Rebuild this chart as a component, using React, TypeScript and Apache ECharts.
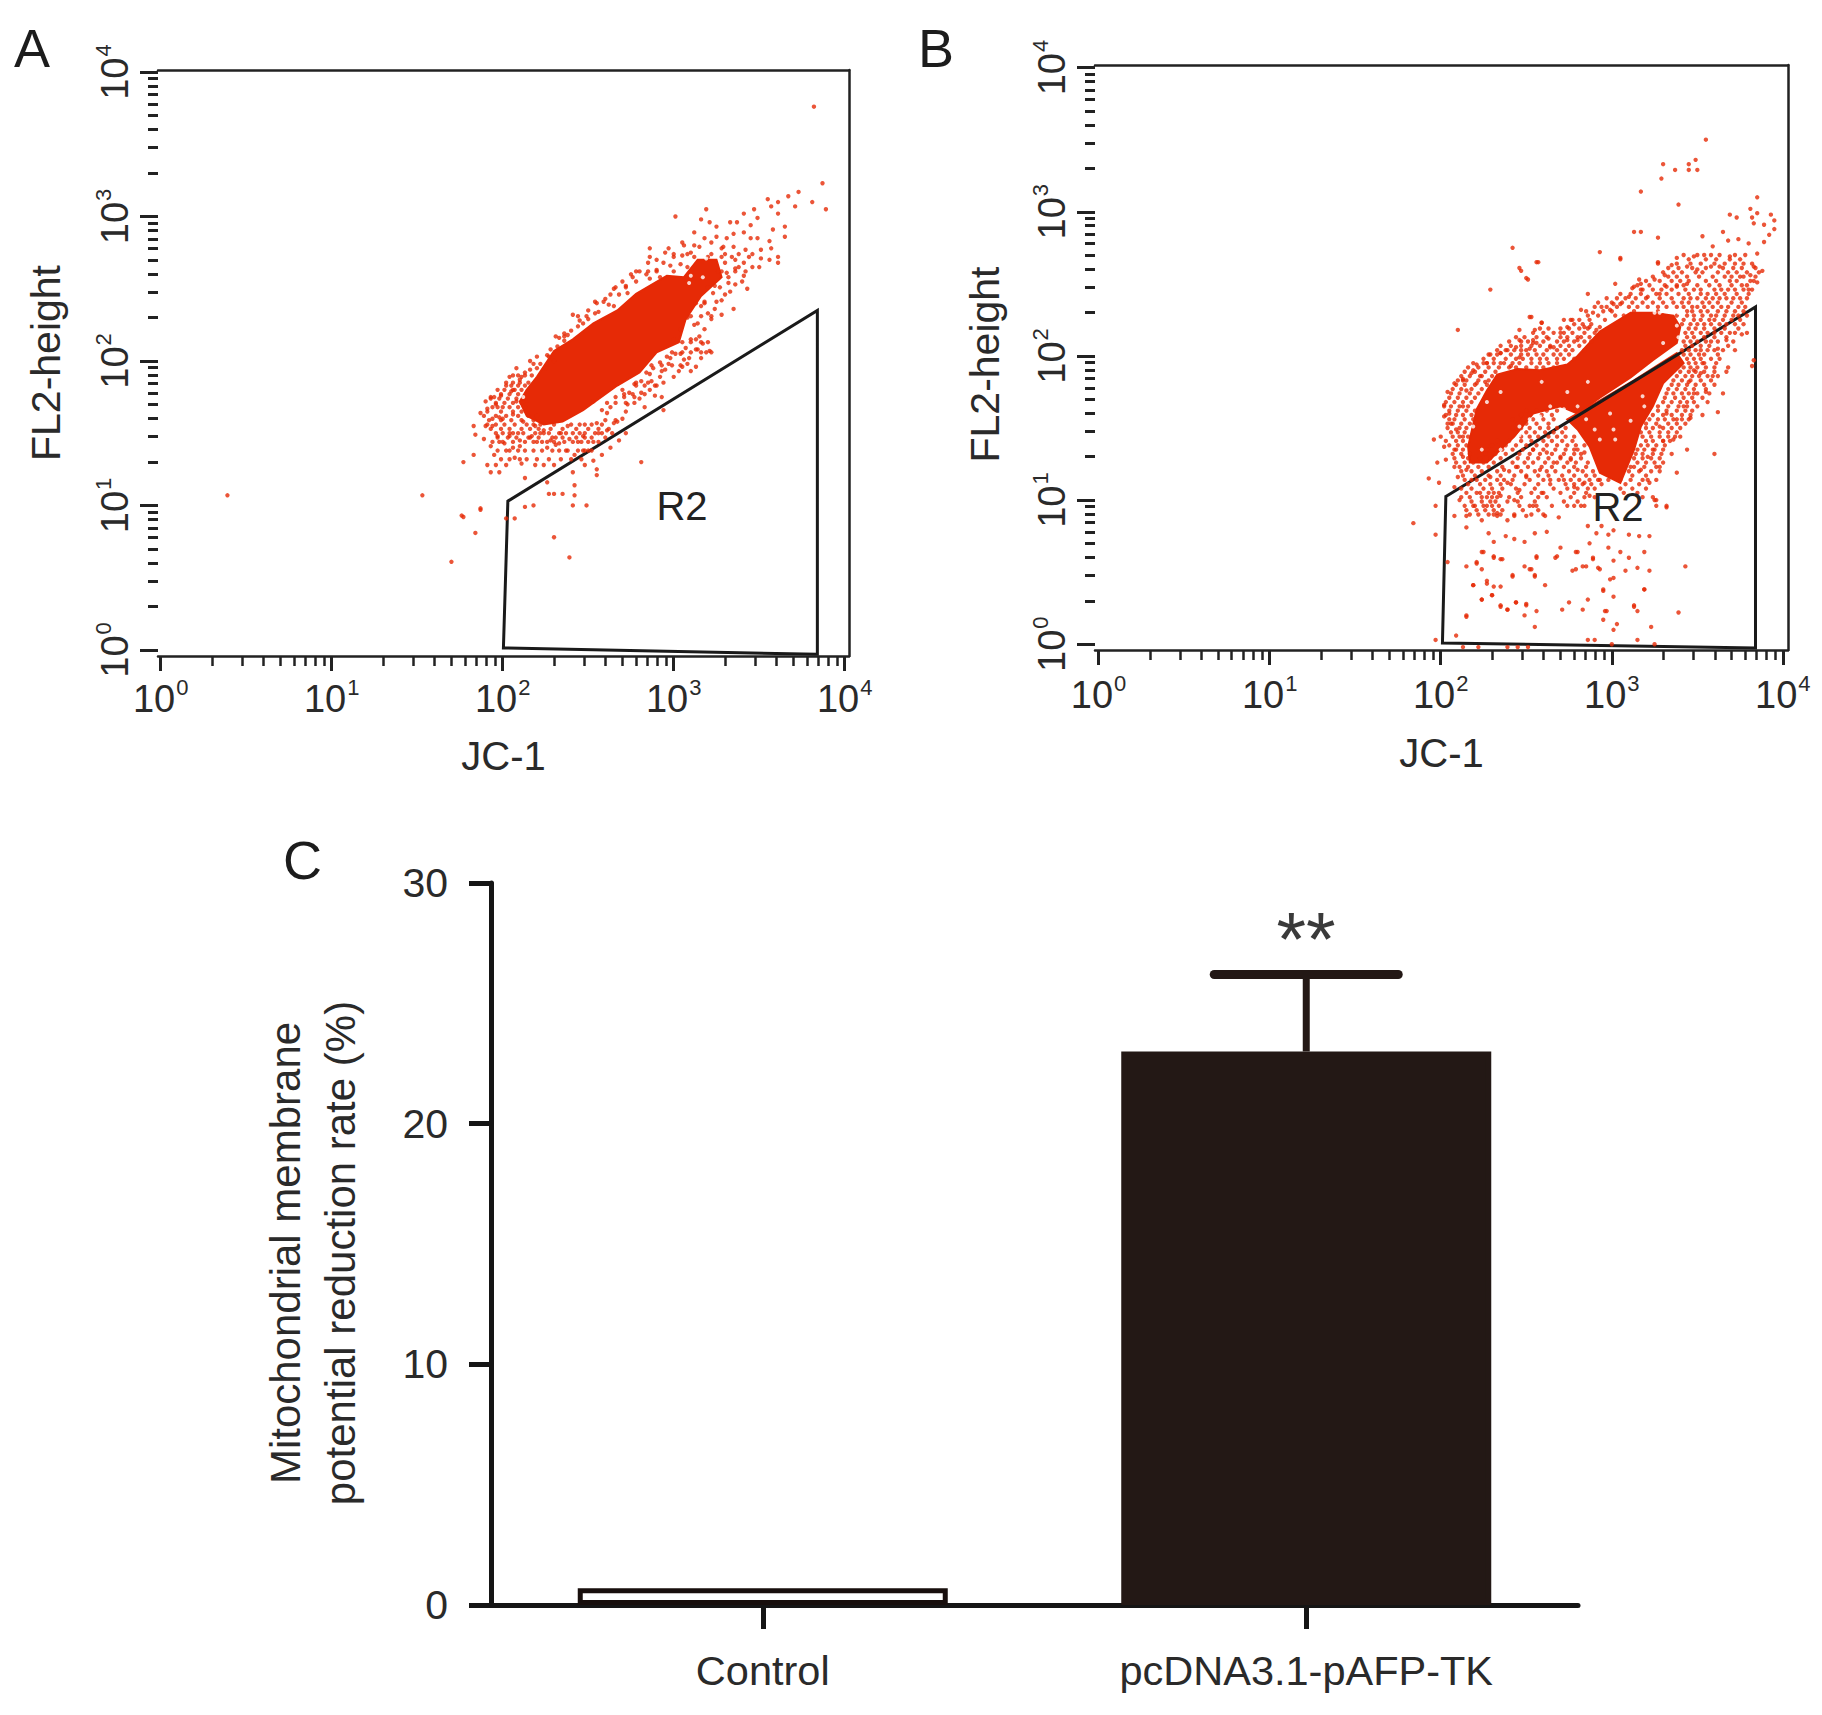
import React, { useEffect, useRef } from "react";
import * as echarts from "echarts";

// All scatter values are log10 decades, flat x,y,x,y...
const decades = [0, 1, 2, 3, 4];
const minorMultipliers = [2, 3, 4, 5, 6, 7, 8, 9];

const coreA = [2.10,1.72,2.14,1.80,2.20,1.89,2.30,2.07,2.41,2.15,2.53,2.26,2.67,2.35,2.78,2.465,2.96,2.59,3.06,2.58,3.14,2.70,3.25,2.70,3.28,2.58,3.16,2.45,3.07,2.29,3.03,2.13,2.90,2.06,2.80,1.92,2.67,1.83,2.47,1.66,2.35,1.58,2.24,1.56,2.14,1.62];
const gateA = [2.03,1.03,3.84,2.35,3.84,-0.03,2.004,0.014];
const gapsA = [2.12,1.75,3.09,2.54,3.17,2.58,3.19,2.71,3.10,2.59];
const fringeA = [
0.39,1.07,1.53,1.07,1.76,0.93,1.87,0.98,1.84,0.81,1.70,0.61,3.82,3.76,
1.87,1.64,1.83,1.55,1.84,1.49,1.89,1.46,1.93,1.41,1.95,1.35,1.83,1.35,1.77,1.30,1.91,1.28,1.93,1.23,1.98,1.23,1.96,1.28,2.02,1.28,2.13,1.19,2.19,1.28,2.24,1.28,2.30,1.28,2.26,1.16,2.41,1.23,2.48,1.28,2.55,1.25,2.55,1.21,2.42,1.14,2.27,1.08,2.30,1.08,2.35,1.08,2.42,1.07,2.41,1.00,2.49,1.00,2.13,0.99,2.18,1.00,1.87,0.97,1.77,0.92,2.02,0.91,2.07,0.91,2.30,0.78,2.39,0.64,2.81,1.30,2.94,1.66,
3.87,3.23,3.89,3.05,3.73,3.17,3.81,3.10,3.71,3.07,3.67,3.14,3.61,3.10,3.55,3.12,3.57,3.07,3.61,3.02,3.65,2.93,3.58,2.91,3.65,2.86,3.56,2.83,3.57,2.78,3.56,2.70,3.61,2.72,3.61,2.68,3.47,3.05,3.41,3.02,3.37,2.96,3.49,2.99,3.45,2.94,3.41,2.89,3.33,2.96,3.25,2.93,3.21,2.96,3.16,2.98,3.19,3.05,3.12,2.89,3.01,3.00,3.25,2.86,3.31,2.85,3.35,2.88,3.29,2.79,3.35,2.79,3.45,2.85,3.49,2.85,3.42,2.77,3.46,2.74,3.51,2.77,3.51,2.71,3.41,2.68,3.36,2.64,3.31,2.61,3.41,2.59,3.36,2.53,3.43,2.50,3.30,2.46,3.33,2.48,3.35,2.36,3.23,2.47,3.20,2.33,3.16,2.38,3.14,2.26,3.15,2.17,3.13,2.15,3.19,2.06,3.14,2.08,3.13,1.96,3.06,2.01,3.08,1.98,3.00,1.89,2.96,2.03,2.92,1.89,2.93,1.75,2.86,1.91,2.83,1.68,2.67,1.58,2.72,1.65,2.77,1.71,2.86,1.80,2.78,1.85,2.71,1.75,2.61,1.71,2.53,1.72,2.61,1.64,2.55,1.57,2.53,1.44,2.50,1.38,2.47,1.48,2.38,1.55,2.33,1.43,2.28,1.45,2.22,1.50,2.17,1.48,2.12,1.50,2.10,1.41,2.04,1.38,2.07,1.33,2.11,1.29,1.98,1.44,2.04,1.48,1.94,1.55,1.98,1.61,1.91,1.67,1.95,1.75,2.00,1.68,2.05,1.79,2.11,1.89,2.16,1.94,2.04,1.89,2.22,1.98,2.28,2.08,2.33,2.16,2.41,2.32,2.36,2.19,2.47,2.26,2.54,2.33,2.63,2.46,2.65,2.38,2.76,2.58,2.73,2.47,2.86,2.78,2.86,2.72,2.97,2.78,3.06,2.80,3.15,2.79,2.86,2.57,2.92,2.58,2.98,2.66,3.05,2.73,3.10,2.75,
2.14,1.70,2.08,1.72,2.06,1.63,2.12,1.58,2.19,1.55,2.24,1.52,2.29,1.47,2.34,1.50,2.39,1.46,2.44,1.44,2.48,1.50,2.52,1.56,2.56,1.50,2.61,1.52,2.65,1.57,2.70,1.60,2.73,1.70,2.77,1.75,2.81,1.78,2.85,1.85,2.89,1.83,2.93,1.93,2.97,1.98,3.01,2.05,3.05,1.96,3.09,2.02,3.13,2.08,3.17,2.12,3.21,2.07,3.00,2.15,3.04,2.22,3.08,2.30,3.12,2.25,
2.25,1.95,2.30,2.00,2.36,2.14,2.40,2.21,2.45,2.28,2.50,2.35,2.55,2.40,2.60,2.43,2.65,2.50,2.70,2.55,2.75,2.60,2.80,2.62,2.85,2.68,2.90,2.70,2.95,2.75,3.00,2.72,3.05,2.82,3.12,2.80,3.18,2.85,3.22,2.82,3.28,2.78,3.34,2.72,3.38,2.65,3.32,2.58,3.26,2.62,3.40,2.55,
2.00,1.60,2.04,1.50,1.94,1.60,1.90,1.55,1.97,1.48,2.01,1.43,2.06,1.40,2.10,1.45,2.15,1.47,2.20,1.44,2.26,1.40,2.31,1.42,2.37,1.38,2.42,1.35,2.48,1.38,2.53,1.31,2.58,1.35,2.63,1.40,2.68,1.45,2.72,1.50,
1.96,1.70,1.93,1.75,1.90,1.72,1.99,1.76,2.02,1.83,2.06,1.80,2.10,1.87,2.13,1.92,2.18,1.98,2.08,1.95,
2.58,1.66,2.63,1.68,2.66,1.75,2.70,1.80,2.74,1.78,2.77,1.84,2.81,1.86,2.84,1.92,2.88,1.95,2.92,1.99,2.95,1.94,2.98,2.02,2.80,1.74,2.89,1.76,2.87,1.86,2.94,1.85,3.04,2.05,3.07,2.09,3.10,2.15,3.03,1.93,3.10,1.93,3.16,2.02,3.18,2.22,3.22,2.29,3.18,2.40,3.13,2.40,3.24,2.36,3.28,2.32,3.28,2.42,3.24,2.52,3.32,2.54,
2.16,2.00,2.20,1.95,2.26,2.04,2.32,2.10,2.38,2.18,2.44,2.24,2.50,2.29,2.56,2.34,2.62,2.39,2.68,2.46,2.72,2.52,2.78,2.55,2.84,2.60,2.90,2.63,2.94,2.68,3.00,2.62,3.04,2.67,3.08,2.65,3.12,2.72,3.20,2.72,3.28,2.72,3.30,2.68,3.36,2.70,3.44,2.72,3.46,2.65,3.50,2.65,
];
const rowsA: [number, number[]][] = [
[1.90,[2.06,2.09,2.13,2.17]],[1.85,[2.02,2.06,2.10,2.15]],[1.80,[1.97,2.01,2.07,2.11]],[1.74,[1.93,1.98,2.03,2.08,2.12]],[1.68,[1.94,1.97,2.04,2.09,2.13]],
[1.62,[1.89,1.96,2.02,2.09,2.15,2.20]],[1.56,[1.91,1.96,2.01,2.07,2.14,2.18,2.22,2.30,2.40,2.45,2.48,2.58]],[1.50,[1.96,2.00,2.06,2.09,2.19,2.24,2.27,2.33,2.37,2.41,2.45,2.54,2.58,2.64]],
[1.44,[1.94,2.00,2.06,2.13,2.18,2.23,2.26,2.30,2.36,2.41,2.46,2.50,2.56]],[1.38,[1.97,2.02,2.09,2.13,2.18,2.23,2.29,2.33,2.38,2.44,2.47,2.52]],[1.32,[1.99,2.04,2.10,2.14,2.20,2.27,2.34,2.40,2.46]],
[1.47,[1.97,2.03,2.08,2.16,2.21,2.31,2.35,2.43,2.48,2.52,2.60]],[1.53,[1.93,1.99,2.04,2.11,2.16,2.21,2.28,2.35,2.43,2.50,2.56,2.62]],[1.59,[1.92,1.99,2.05,2.11,2.18,2.60,2.66]],[1.65,[1.91,1.99,2.06,2.11]],
[1.71,[1.96,2.01,2.06,2.11,2.66,2.72]],[1.77,[1.99,2.04,2.09,2.71,2.76,2.83]],[1.83,[2.05,2.09,2.13,2.78,2.83,2.90]],[1.97,[2.87,2.93,2.99,3.04]],[2.06,[2.99,3.05,3.10,3.16,3.22]],[2.13,[3.05,3.10,3.16,3.20]],
[2.03,[2.20,2.27]],[2.17,[2.31,2.36]],[2.31,[2.44,2.49,3.10,3.16,3.22]],[2.41,[2.54,2.59,3.18,3.25]],[2.51,[2.66,2.72,3.20,3.27]],[2.62,[2.78,2.85,2.90,3.28,3.36,3.42]],[2.74,[3.00,3.08,3.22,3.30,3.38]],
];

const coreB1 = [2.16,1.37,2.21,1.63,2.27,1.76,2.33,1.87,2.45,1.91,2.58,1.90,2.74,1.94,2.80,2.00,2.93,2.17,3.11,2.30,3.24,2.30,3.36,2.28,3.40,2.20,3.38,2.09,3.24,1.97,3.11,1.85,2.93,1.71,2.80,1.60,2.70,1.65,2.54,1.60,2.43,1.44,2.27,1.26,2.17,1.26];
const coreB2 = [2.74,1.56,2.93,1.69,3.13,1.83,3.38,2.02,3.42,1.95,3.30,1.81,3.24,1.65,3.17,1.51,3.13,1.35,3.05,1.12,2.93,1.19,2.87,1.37,2.80,1.49];
const gateB = [2.03,1.025,3.84,2.34,3.84,-0.026,2.01,0.009];
const gapsB = [2.74,1.75,2.59,1.82,2.86,1.82,2.27,1.68,2.35,1.75,2.46,1.51,2.19,1.51,3.25,2.30,3.28,2.30,3.39,2.30,3.42,2.30,3.38,2.21,3.39,2.13,3.30,2.09,2.99,1.60,2.85,1.56,3.18,1.72,3.19,1.65,3.11,1.55,3.01,1.49,2.46,1.45,2.35,1.35,2.24,1.35,2.52,1.56,2.58,1.58,2.64,1.65,2.72,1.63,2.80,1.65,2.90,1.49,2.93,1.42,3.02,1.42];
const fringeB = [
3.55,3.50,3.30,3.33,3.45,3.33,3.49,3.36,3.37,3.29,3.45,3.29,3.50,3.29,3.29,3.23,3.17,3.14,3.39,3.05,3.85,3.10,3.81,3.02,3.82,2.96,3.83,2.92,3.85,2.99,3.93,2.98,3.95,2.94,3.95,2.88,3.92,2.84,3.89,2.79,3.89,2.91,3.69,2.98,3.73,2.96,3.65,2.86,3.53,2.83,3.13,2.86,3.17,2.86,3.27,2.82,2.93,2.72,3.05,2.67,2.42,2.75,2.57,2.65,2.47,2.59,2.51,2.53,2.29,2.46,2.86,2.43,3.27,2.65,3.35,2.63,2.10,2.18,2.53,2.27,2.59,2.23,2.46,2.18,2.55,2.18,2.46,2.11,2.82,2.32,3.02,2.50,2.89,2.30,2.72,2.25,2.77,2.25,2.70,2.16,2.63,2.12,2.54,2.11,2.44,2.06,2.39,2.04,2.35,2.02,2.29,2.01,2.27,1.95,2.21,1.94,2.13,1.83,2.18,1.88,2.24,1.86,2.26,1.82,2.35,1.95,2.41,1.93,2.46,1.99,2.52,2.05,2.56,2.09,2.66,2.06,2.74,2.11,2.80,2.13,2.87,2.20,2.93,2.20,2.94,2.34,2.99,2.32,3.05,2.36,3.10,2.41,3.16,2.53,3.17,2.46,3.12,2.47,3.21,2.41,3.25,2.53,3.31,2.56,3.38,2.68,3.44,2.62,3.48,2.69,3.54,2.70,3.59,2.76,3.68,2.80,3.74,2.81,3.80,2.78,3.85,2.71,3.88,2.59,3.83,2.62,3.85,2.51,3.80,2.46,3.81,2.56,3.75,2.55,3.69,2.69,3.63,2.62,3.58,2.62,3.50,2.60,3.44,2.50,3.38,2.48,3.32,2.48,3.28,2.43,
3.67,2.11,3.76,2.15,3.79,2.16,3.83,1.97,3.82,1.93,3.62,2.05,3.56,2.04,3.54,1.95,3.48,1.90,3.52,1.88,3.45,1.82,3.59,1.86,3.67,1.89,3.65,1.74,3.55,1.75,3.62,1.61,3.53,1.59,3.60,1.32,3.44,1.35,3.48,1.74,3.42,1.65,3.38,1.56,3.46,1.57,3.36,1.42,3.40,1.44,3.30,1.41,3.38,1.19,3.28,1.23,3.32,0.96,3.26,1.00,3.22,1.12,3.43,0.54,3.39,0.22,3.23,0.12,3.13,0.26,3.15,0.23,3.19,0.38,3.22,0.51,3.19,0.64,3.22,0.75,3.16,0.75,3.10,0.76,3.05,0.64,3.01,0.58,3.10,0.60,3.15,0.53,3.01,0.46,2.95,0.38,3.01,0.33,2.96,0.23,2.95,0.17,3.01,0.10,2.86,0.31,2.83,0.24,2.71,0.24,2.55,0.12,2.56,0.23,2.50,0.28,2.44,0.29,2.39,0.24,2.35,0.26,2.15,0.19,2.24,0.31,2.30,0.34,2.19,0.41,2.27,0.42,2.35,0.40,2.42,0.47,2.24,0.52,2.21,0.56,2.35,0.59,2.24,0.64,2.31,0.61,2.52,0.52,2.55,0.47,2.61,0.41,2.68,0.61,2.56,0.61,2.79,0.64,2.89,0.60,2.79,0.52,2.85,0.54,2.92,0.53,2.98,0.67,2.87,0.70,2.91,0.77,2.98,0.76,2.86,0.82,2.94,0.82,3.01,0.79,
2.62,0.78,2.55,0.77,2.49,0.71,2.43,0.73,2.38,0.75,2.31,0.71,2.28,0.77,2.15,0.81,2.08,0.89,2.15,0.89,2.24,0.86,2.33,0.89,2.39,0.86,2.43,0.89,2.50,0.89,2.56,0.96,2.61,0.89,2.69,0.88,2.59,1.05,2.54,0.96,2.46,1.07,2.43,1.00,2.35,1.03,2.33,0.91,2.27,0.96,2.19,0.96,2.11,1.00,2.23,1.05,2.31,1.05,2.39,1.12,2.50,1.16,2.58,1.21,2.64,1.14,2.72,1.14,2.80,1.21,2.78,1.09,2.84,1.12,2.87,1.03,2.82,0.96,2.66,1.26,2.70,1.30,2.62,1.33,2.54,1.35,2.45,1.23,2.37,1.21,2.29,1.16,2.21,1.14,2.80,1.35,2.76,1.28,2.84,1.33,2.93,1.14,3.13,1.23,3.21,1.30,3.17,1.21,3.21,1.14,3.07,1.05,3.24,1.35,3.28,1.51,3.32,1.60,
1.84,0.84,1.97,0.76,1.97,0.96,1.99,1.12,1.93,1.15,1.98,1.26,2.03,1.28,2.02,1.37,2.08,1.23,1.96,1.42,2.00,1.44,2.02,1.58,2.02,1.66,2.04,1.75,2.08,1.81,2.13,1.84,2.19,1.90,2.27,1.95,2.35,2.02,2.47,2.04,2.54,2.09,2.64,2.06,2.74,2.20,2.80,2.11,2.84,2.20,2.91,2.18,3.01,2.36,3.13,2.48,3.17,2.50,3.27,2.64,3.05,2.68,2.56,2.65,2.46,2.61,2.50,2.54,2.52,2.27,2.59,2.23,2.05,1.60,2.09,1.49,2.06,1.53,2.13,1.44,2.09,1.35,2.13,1.30,2.15,1.21,2.10,1.16,2.08,1.09,2.13,1.65,2.15,1.76,2.21,1.81,
2.13,-0.02,2.22,-0.02,2.39,-0.02,2.45,-0.02,2.51,-0.02,3.00,0.00,3.25,0.00,1.97,0.03,2.09,0.06,2.86,0.03,2.90,0.03,3.15,0.03,
2.04,0.57,2.15,0.54,2.21,0.57,2.19,0.41,2.27,0.44,2.31,0.40,2.30,0.34,2.24,0.31,2.35,0.27,2.39,0.24,2.44,0.29,2.50,0.27,2.49,0.20,2.15,0.20,2.42,0.48,2.55,0.48,2.53,0.52,2.49,0.54,2.36,0.59,2.31,0.60,2.25,0.64,2.56,0.60,2.67,0.60,2.70,0.67,2.80,0.64,2.83,0.54,2.77,0.51,2.89,0.59,2.93,0.52,3.08,0.51,2.99,0.45,2.95,0.37,3.19,0.38,2.75,0.29,3.13,0.27,2.97,0.23,3.03,0.14,3.32,0.95,3.25,1.00,
];
const rowsB: [number, number[]][] = [
[2.70,[3.42,3.50,3.58,3.63,3.72,3.78]],[2.64,[3.38,3.46,3.52,3.60,3.66,3.72,3.77,3.82]],[2.58,[3.30,3.36,3.41,3.49,3.53,3.62,3.68,3.73,3.79,3.86]],[2.52,[3.20,3.28,3.35,3.40,3.45,3.55,3.61,3.69,3.73,3.81,3.83]],
[2.46,[3.18,3.24,3.29,3.35,3.43,3.48,3.52,3.60,3.64,3.68,3.72,3.77,3.82]],[2.40,[2.97,3.03,3.08,3.14,3.20,3.28,3.35,3.42,3.46,3.50,3.55,3.59,3.63,3.67,3.71,3.75,3.79]],
[2.34,[2.90,2.97,3.03,3.10,3.15,3.21,3.27,3.32,3.38,3.42,3.47,3.50,3.54,3.59,3.64,3.68,3.74,3.78]],[2.28,[2.86,2.92,3.02,3.07,3.18,3.30,3.38,3.44,3.48,3.53,3.58,3.61,3.66,3.71,3.74,3.79]],
[2.22,[2.78,2.83,2.88,3.03,3.41,3.46,3.50,3.54,3.58,3.63,3.67,3.72,3.77]],[2.16,[2.54,2.60,2.66,2.72,2.77,2.84,2.90,3.43,3.47,3.52,3.56,3.60,3.64,3.69,3.72]],
[2.10,[2.40,2.47,2.51,2.60,2.68,2.72,2.78,2.84,2.88,3.42,3.46,3.50,3.55,3.58,3.62,3.71]],[2.04,[2.33,2.38,2.43,2.50,2.55,2.62,2.68,2.73,2.77,2.84,3.41,3.45,3.49,3.52,3.60,3.65,3.72]],
[1.98,[2.25,2.31,2.38,2.44,2.48,2.53,2.58,2.62,2.68,2.72,2.78,3.44,3.48,3.52,3.58,3.63]],[1.92,[2.16,2.22,2.28,2.34,2.40,2.44,2.50,2.56,2.60,2.66,2.70,3.42,3.46,3.50,3.55,3.60,3.68]],
[1.86,[2.12,2.17,2.23,2.30,3.38,3.43,3.47,3.51,3.56,3.62]],[1.80,[2.09,2.14,2.20,2.27,3.35,3.39,3.44,3.49,3.54,3.60]],[1.74,[2.06,2.11,2.17,2.22,3.32,3.36,3.41,3.45,3.50,3.57]],
[1.68,[2.03,2.08,2.13,2.18,3.30,3.35,3.40,3.44,3.48,3.56]],[1.62,[2.05,2.10,2.15,2.20,2.50,2.56,2.62,2.68,3.27,3.32,3.38,3.43,3.47]],[1.56,[2.05,2.08,2.14,2.19,2.42,2.48,2.54,2.60,2.66,3.22,3.27,3.31,3.36,3.41,3.45]],
[1.50,[2.04,2.11,2.15,2.42,2.47,2.52,2.58,2.63,2.68,2.73,3.20,3.24,3.30,3.35,3.40]],[1.44,[2.07,2.11,2.16,2.47,2.52,2.57,2.63,2.68,2.73,2.78,3.18,3.23,3.28,3.33,3.37]],
[1.38,[2.05,2.10,2.15,2.30,2.38,2.44,2.50,2.56,2.62,2.68,2.74,2.79,2.84,3.17,3.21,3.26,3.31]],[1.32,[2.07,2.12,2.17,2.26,2.32,2.38,2.46,2.52,2.58,2.65,2.72,2.78,2.82,3.14,3.18,3.24,3.29,3.35]],
[1.26,[2.09,2.14,2.19,2.25,2.31,2.42,2.49,2.54,2.61,2.68,2.74,2.79,2.86,3.15,3.20,3.25,3.30]],[1.20,[2.12,2.18,2.24,2.33,2.40,2.47,2.55,2.62,2.67,2.75,2.83,2.89,3.10,3.16,3.23,3.28]],
[1.14,[2.14,2.18,2.26,2.33,2.37,2.42,2.52,2.60,2.69,2.76,2.81,2.87,2.92,2.98,3.05,3.11,3.18,3.26]],[1.08,[2.12,2.18,2.25,2.30,2.36,2.44,2.55,2.66,2.74,2.80,2.86,2.90,3.05,3.12,3.20]],
[1.02,[2.12,2.17,2.24,2.27,2.30,2.33,2.40,2.47,2.57,2.62,2.76,2.84,2.90,3.18,3.24]],[0.96,[2.14,2.20,2.25,2.30,2.34,2.46,2.52,2.65,2.74,2.78,2.84,3.26]],[0.90,[2.17,2.22,2.28,2.31,2.35,2.43,2.53,2.60]],
[2.67,[3.45,3.55,3.61,3.69,3.75]],[2.61,[3.33,3.39,3.47,3.55,3.65,3.71,3.76,3.84]],[2.55,[3.24,3.33,3.38,3.44,3.51,3.59,3.66,3.70,3.77,3.84]],[2.49,[3.15,3.22,3.31,3.38,3.42,3.50,3.57,3.63,3.70,3.76,3.79]],
[2.43,[3.05,3.11,3.17,3.26,3.32,3.39,3.45,3.52,3.56,3.61,3.66,3.73,3.80]],[2.37,[2.92,3.00,3.06,3.12,3.18,3.24,3.30,3.36,3.41,3.45,3.53,3.57,3.62,3.70,3.76]],[2.31,[2.85,2.95,3.00,3.13,3.27,3.44,3.47,3.52,3.56,3.62,3.67,3.72,3.77]],
[2.25,[2.76,2.81,2.87,2.96,3.42,3.48,3.52,3.57,3.60,3.65,3.70,3.75]],[2.19,[2.58,2.63,2.70,2.75,2.81,2.86,3.45,3.49,3.54,3.60,3.66,3.74]],[2.13,[2.44,2.49,2.56,2.62,2.70,2.74,2.82,2.87,3.44,3.48,3.54,3.60,3.67]],
[2.07,[2.35,2.41,2.47,2.53,2.58,2.64,2.70,2.75,2.81,3.43,3.47,3.52,3.57,3.68]],[2.01,[2.28,2.33,2.41,2.47,2.51,2.56,2.60,2.66,2.70,2.75,3.42,3.46,3.51,3.54,3.62]],[1.95,[2.19,2.25,2.31,2.37,2.42,2.46,2.53,2.58,2.63,2.68,3.40,3.45,3.49,3.53,3.61]],
[1.89,[2.14,2.20,2.26,2.32,3.40,3.45,3.49,3.54,3.60]],[1.83,[2.10,2.15,2.22,2.28,3.36,3.41,3.46,3.52,3.58]],[1.77,[2.07,2.12,2.18,2.24,3.33,3.38,3.43,3.48,3.55]],[1.71,[2.05,2.10,2.15,2.20,3.31,3.37,3.42,3.47,3.53]],
[1.65,[2.02,2.06,2.11,2.16,3.27,3.33,3.39,3.44,3.50]],[1.59,[2.03,2.09,2.13,2.18,2.47,2.52,2.59,2.65,3.24,3.30,3.35,3.41,3.46]],[1.53,[2.04,2.07,2.12,2.17,2.45,2.50,2.56,2.63,3.20,3.26,3.33,3.38,3.43]],
[1.47,[2.06,2.10,2.14,2.44,2.50,2.55,2.61,2.66,2.71,3.17,3.22,3.28,3.33,3.38]],[1.41,[2.03,2.09,2.13,2.33,2.40,2.47,2.53,2.60,2.65,2.71,2.77,3.20,3.24,3.30,3.34]],[1.35,[2.08,2.13,2.27,2.36,2.42,2.48,2.54,2.60,2.67,2.73,2.78,3.15,3.19,3.25,3.30]],
[1.29,[2.08,2.16,2.23,2.29,2.35,2.45,2.51,2.57,2.63,2.70,2.76,2.82,3.13,3.18,3.23,3.28]],[1.23,[2.11,2.16,2.22,2.28,2.36,2.44,2.51,2.59,2.65,2.72,2.78,2.85,3.11,3.19,3.26]],[1.17,[2.13,2.20,2.28,2.35,2.43,2.50,2.57,2.63,2.71,2.78,2.85,2.90,3.12,3.20]],
[1.11,[2.16,2.23,2.29,2.35,2.41,2.49,2.57,2.64,2.73,2.78,2.83,2.88,2.94,3.08,3.16]],[1.05,[2.15,2.21,2.28,2.34,2.45,2.53,2.60,2.70,2.78,2.85,3.15]],[0.99,[2.18,2.24,2.29,2.32,2.39,2.45,2.55,2.72,2.80]],[0.93,[2.15,2.21,2.26,2.31,2.36,2.48,2.57]],
];

const categories = ["Control", "pcDNA3.1-pAFP-TK"];
const rateMeans = [0.7, 23.0];
const rateErrorTops = [null, 26.2];
const rateTicks = [0, 10, 20, 30];

const FONT = "'Liberation Sans', Arial, sans-serif";
const RED = "#e62a06";
const INK = "#222222";

const pairs = (flat: number[]) => {
  const out: number[][] = [];
  for (let i = 0; i < flat.length; i += 2) out.push([flat[i], flat[i + 1]]);
  return out;
};
const rowPoints = (rows: [number, number[]][]) => rows.flatMap(([y, xs]) => xs.map((x) => [x, y]));
const minorTickValues = decades.slice(0, 4).flatMap((d) => minorMultipliers.map((m) => d + Math.log10(m)));

const decadeLabel = (v: number) => `{a|10}{b|${Math.round(v)}}`;
const richTicks = {
  a: { fontFamily: FONT, fontSize: 38, color: "#2a2a2a" },
  b: { fontFamily: FONT, fontSize: 22, color: "#2a2a2a", padding: [0, 0, 24, 1] },
};

function flowAxes(grid: number, ex: number[], ey: number[], xGap: number, yGap: number, yPad: number, xMargin: number) {
  const base = { type: "value" as const, gridIndex: grid, splitLine: { show: false }, scale: true };
  const hiddenLabel = { show: false };
  const xAxis = [
    {
      ...base, min: ex[0], max: ex[1], position: "bottom",
      name: "JC-1", nameLocation: "middle", nameGap: xGap,
      nameTextStyle: { fontFamily: FONT, fontSize: 40, color: "#2a2a2a" },
      axisLine: { show: true, onZero: false, lineStyle: { color: INK, width: 2.5 } },
      axisTick: { show: true, customValues: decades, length: 15, lineStyle: { color: INK, width: 3 } },
      axisLabel: { show: true, customValues: decades, margin: xMargin, formatter: decadeLabel, rich: richTicks },
    },
    {
      ...base, min: ex[0], max: ex[1], position: "bottom",
      axisLine: { show: false, onZero: false },
      axisTick: { show: true, customValues: minorTickValues, length: 10, lineStyle: { color: INK, width: 2.5 } },
      axisLabel: hiddenLabel,
    },
    {
      ...base, min: ex[0], max: ex[1], position: "top",
      axisLine: { show: true, onZero: false, lineStyle: { color: INK, width: 2.5 } },
      axisTick: { show: false }, axisLabel: hiddenLabel,
    },
  ];
  const yAxis = [
    {
      ...base, min: ey[0], max: ey[1], position: "left",
      name: "FL2-height", nameLocation: "middle", nameGap: yGap,
      nameTextStyle: { fontFamily: FONT, fontSize: 41, color: "#2a2a2a", padding: [0, yPad, 0, 0] },
      axisLine: { show: false, onZero: false },
      axisTick: { show: true, customValues: decades, length: 18, lineStyle: { color: INK, width: 3 } },
      axisLabel: { show: true, customValues: decades, rotate: 90, margin: 20, formatter: decadeLabel, rich: richTicks },
    },
    {
      ...base, min: ey[0], max: ey[1], position: "left",
      axisLine: { show: false, onZero: false },
      axisTick: { show: true, customValues: minorTickValues, length: 10, lineStyle: { color: INK, width: 3 } },
      axisLabel: hiddenLabel,
    },
    {
      ...base, min: ey[0], max: ey[1], position: "right",
      axisLine: { show: true, onZero: false, lineStyle: { color: INK, width: 2.5 } },
      axisTick: { show: false }, axisLabel: hiddenLabel,
    },
  ];
  return { xAxis, yAxis };
}

function polygonSeries(name: string, flat: number[], axis: number, style: any) {
  const pts = pairs(flat);
  return {
    type: "custom", name, coordinateSystem: "cartesian2d", xAxisIndex: axis, yAxisIndex: axis, silent: true,
    clip: false, data: [pts[0]],
    renderItem: (_p: any, api: any) => ({
      type: "polygon",
      shape: { points: pts.map((p) => api.coord(p)) },
      style,
    }),
  };
}

function flowSeries(label: string, cores: number[][], fringe: number[], rows: [number, number[]][], gaps: number[], gate: number[], axis: number) {
  return [
    ...cores.map((c, i) => polygonSeries(`${label} core ${i + 1}`, c, axis, { fill: RED, stroke: RED, lineWidth: 2 })),
    {
      type: "scatter", name: `${label} events`, xAxisIndex: axis, yAxisIndex: axis, silent: true,
      symbol: "circle", symbolSize: 4.4, data: [...pairs(fringe), ...rowPoints(rows)], itemStyle: { color: RED }, clip: false,
    },
    {
      type: "scatter", name: `${label} gaps`, xAxisIndex: axis, yAxisIndex: axis, silent: true,
      symbol: "circle", symbolSize: 4, data: pairs(gaps), itemStyle: { color: "#ffffff" },
    },
    polygonSeries(`${label} gate R2`, gate, axis, { fill: "none", stroke: "#1a1a1a", lineWidth: 3, lineJoin: "miter" }),
  ];
}

const panelLetter = (text: string, x: number, y: number) => ({
  type: "text", x, y, z: 20,
  style: { text, fontFamily: FONT, fontSize: 54, fill: "#1c1c1c", align: "left", verticalAlign: "middle" },
});
const gateLabel = (x: number, y: number) => ({
  type: "text", x, y, z: 20,
  style: { text: "R2", fontFamily: FONT, fontSize: 40, fill: "#222222", align: "center", verticalAlign: "middle" },
});

export default function App() {
  const ref = useRef<HTMLDivElement>(null);
  useEffect(() => {
    const chart = echarts.init(ref.current!, null, { renderer: "svg" });
    const a = flowAxes(0, [-0.016, 4.025], [-0.042, 4.014], 80, 92, 0, 20);
    const b = flowAxes(1, [-0.021, 4.03], [-0.04, 4.018], 83, 90, 14, 22);
    chart.setOption({
      animation: false,
      backgroundColor: "#ffffff",
      grid: [
        { left: 158, top: 70, width: 691, height: 586 },
        { left: 1095, top: 65, width: 693, height: 585 },
        { left: 491, top: 883, width: 1087, height: 722 },
      ],
      xAxis: [
        ...a.xAxis,
        ...b.xAxis,
        {
          type: "category", gridIndex: 2, data: categories,
          axisLine: { lineStyle: { color: "#151515", width: 5 } },
          axisTick: { show: true, alignWithLabel: true, length: 24, lineStyle: { color: "#151515", width: 5 } },
          axisLabel: { fontFamily: FONT, fontSize: 41.5, color: "#2a2a2a", margin: 44 },
        },
      ],
      yAxis: [
        ...a.yAxis,
        ...b.yAxis,
        {
          type: "value", gridIndex: 2, min: 0, max: 30, interval: 10,
          name: "Mitochondrial membrane\npotential reduction rate (%)", nameLocation: "middle", nameGap: 123,
          nameTextStyle: { fontFamily: FONT, fontSize: 42, lineHeight: 55, color: "#2a2a2a", padding: [0, 18, 0, 0] },
          splitLine: { show: false },
          axisLine: { show: true, lineStyle: { color: "#151515", width: 5 } },
          axisTick: { show: true, length: 22, lineStyle: { color: "#151515", width: 5 } },
          axisLabel: {
            fontFamily: FONT, fontSize: 41, color: "#2a2a2a", margin: 43,
            customValues: rateTicks,
          },
        },
      ],
      series: [
        ...flowSeries("A", [coreA], fringeA, rowsA, gapsA, gateA, 0),
        ...flowSeries("B", [coreB1, coreB2], fringeB, rowsB, gapsB, gateB, 3),
        {
          type: "bar", name: "Reduction rate", xAxisIndex: 6, yAxisIndex: 6, barWidth: 370, silent: true,
          data: [
            { value: rateMeans[0], itemStyle: { color: "#ffffff", borderColor: "#180f0d", borderWidth: 5 } },
            { value: rateMeans[1], itemStyle: { color: "#231815", borderColor: "#231815", borderWidth: 6 } },
          ],
        },
        {
          type: "custom", name: "Error", xAxisIndex: 6, yAxisIndex: 6, silent: true,
          data: rateErrorTops.map((t, i) => [i, rateMeans[i], t ?? rateMeans[i]]),
          renderItem: (_p: any, api: any) => {
            const i = api.value(0), lo = api.value(1), hi = api.value(2);
            if (hi === lo) return null;
            const base = api.coord([i, lo]);
            const top = api.coord([i, hi]);
            const line = { stroke: "#231815", lineWidth: 7 };
            return {
              type: "group",
              children: [
                { type: "line", shape: { x1: top[0], y1: base[1], x2: top[0], y2: top[1] }, style: line },
                { type: "line", shape: { x1: top[0] - 92, y1: top[1], x2: top[0] + 92, y2: top[1] }, style: { stroke: "#231815", lineWidth: 9, lineCap: "round" } },
              ],
            };
          },
        },
      ],
      graphic: [
        panelLetter("A", 14, 48),
        panelLetter("B", 918, 48),
        panelLetter("C", 283, 860),
        gateLabel(682, 506),
        gateLabel(1618, 507),
        {
          type: "text", x: 1306, y: 938, z: 20,
          style: { text: "**", fontFamily: FONT, fontSize: 76, fill: "#3a3a3a", align: "center", verticalAlign: "middle" },
        },
      ],
    });
    return () => chart.dispose();
  }, []);
  return <div ref={ref} style={{ position: "absolute", left: 0, top: 0, width: 1822, height: 1715, background: "#fff" }} />;
}
